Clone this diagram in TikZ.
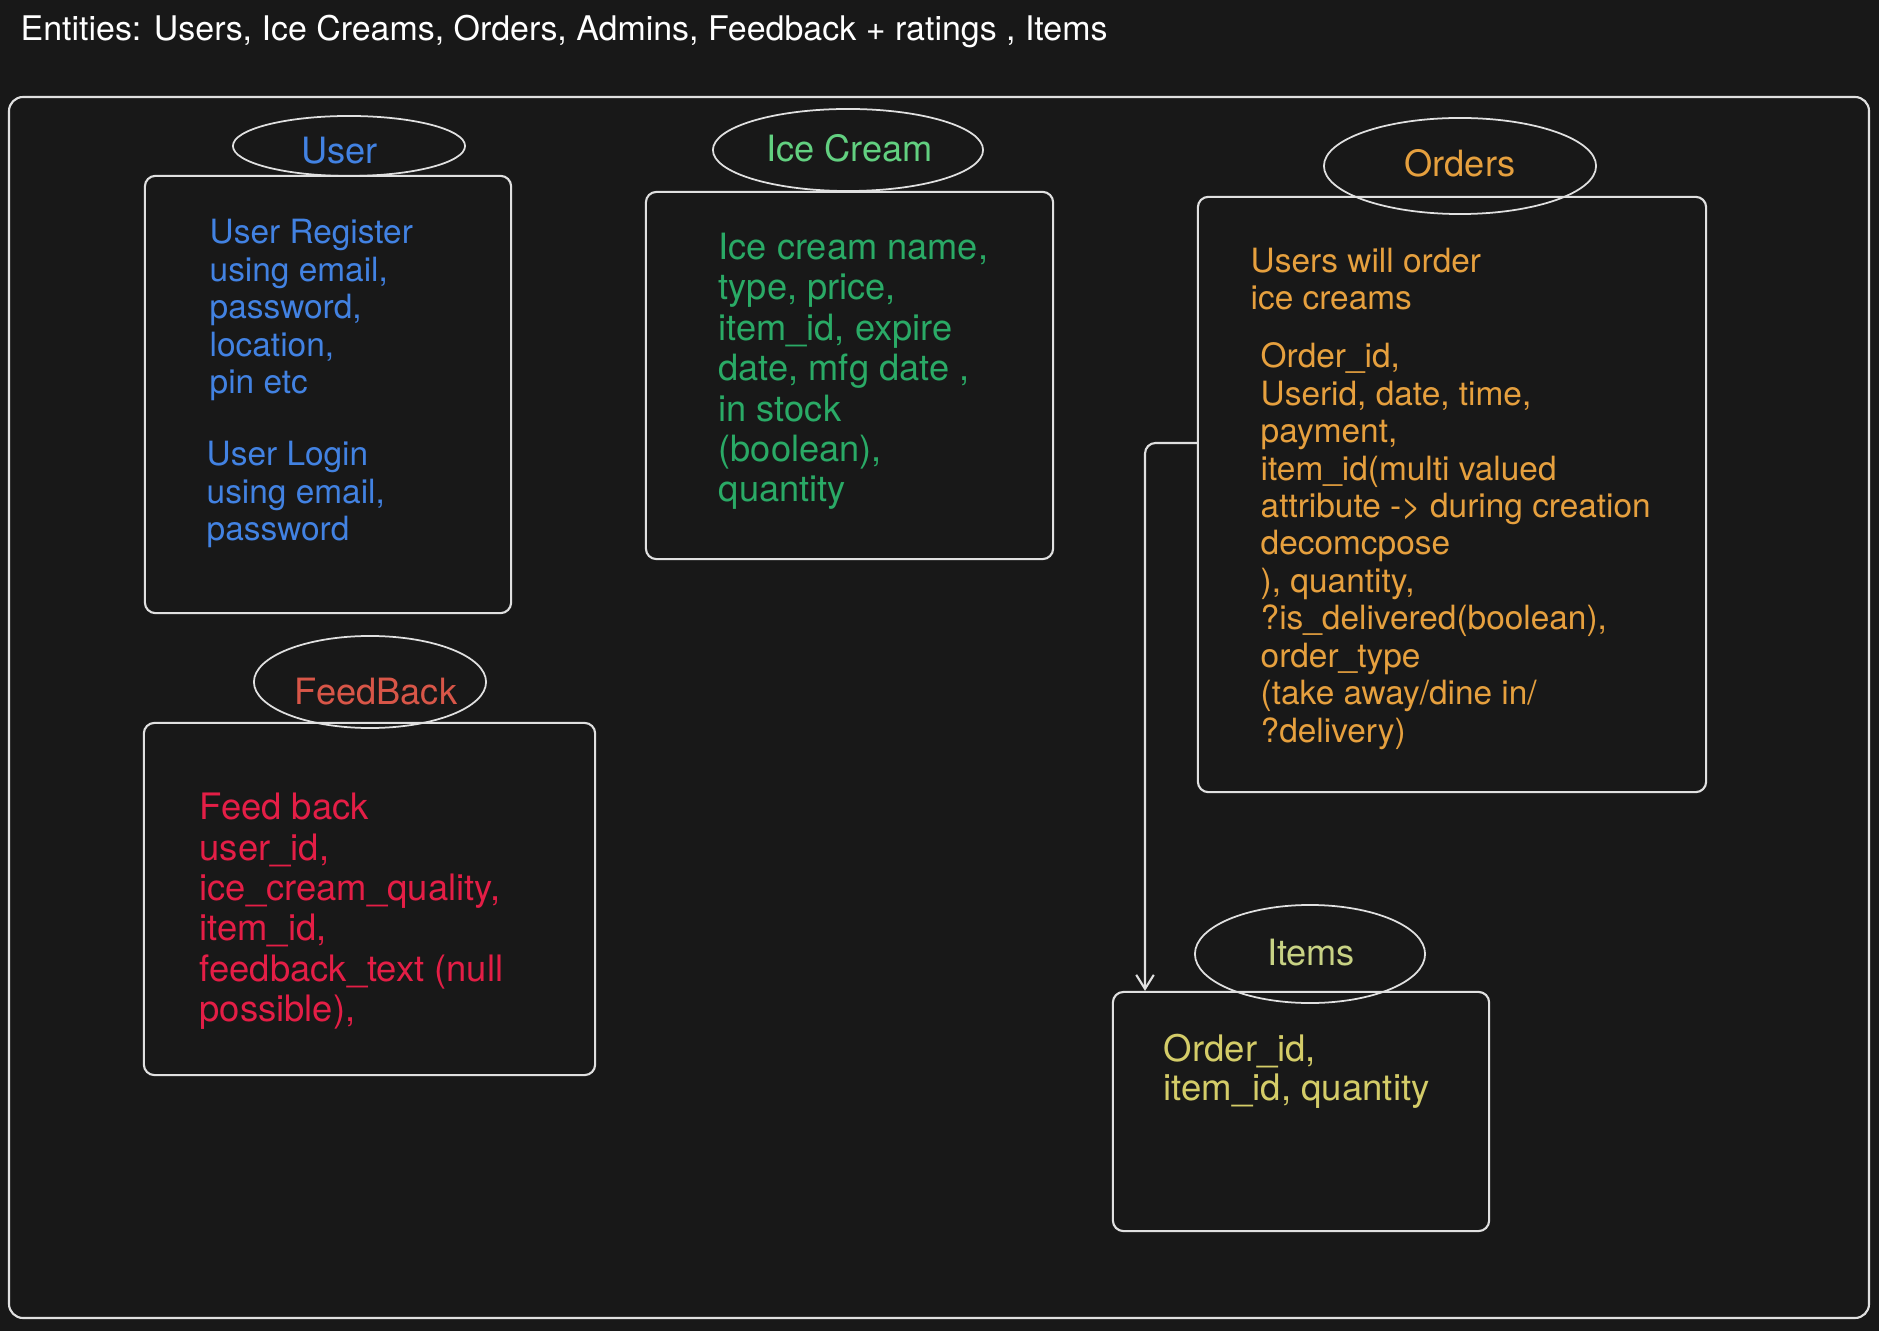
\documentclass[tikz,border=0pt]{standalone}
\usepackage{fontspec}
\setmainfont{TeX Gyre Heros}
\usetikzlibrary{shapes.geometric, arrows.meta}

\definecolor{hinter}{RGB}{24,24,24}
\definecolor{strich}{RGB}{224,224,224}
\definecolor{blau}{RGB}{66,130,226}
\definecolor{gruenhell}{RGB}{98,208,128}
\definecolor{gruen}{RGB}{42,170,102}
\definecolor{orange}{RGB}{230,160,62}
\definecolor{rothell}{RGB}{216,86,72}
\definecolor{rot}{RGB}{228,30,70}
\definecolor{gelbhell}{RGB}{200,210,132}
\definecolor{gelb}{RGB}{212,204,104}

\begin{document}
\begin{tikzpicture}[x=0.01cm, y=-0.01cm,
		>={Straight Barb[length=4pt,width=5pt]},
		ent/.style={draw=strich, ellipse, line width=0.5pt, inner sep=0pt},
		box/.style={draw=strich, rectangle, rounded corners=3pt, line width=0.6pt, inner sep=0pt},
		titel/.style={anchor=base, inner sep=0pt, font=\fontsize{10.3}{12}\selectfont},
		txt/.style={anchor=base west, align=left, inner sep=0pt}]
		\fill[hinter] (0,0) rectangle (1879,1331);
		
		% Kopfzeile
		\node[txt, text=white, font=\fontsize{9.65}{11}\selectfont] (kopf) at (20,41)
		{Entities: Users, Ice Creams, Orders, Admins, Feedback + ratings , Items};
		\draw[strich, line width=0.6pt, rounded corners=4pt] (9,97) rectangle (1869,1318);
		
		% User (Textknoten: base = letzte Zeile)
		\node[box, minimum width=3.66cm, minimum height=4.37cm] (userbox) at (328,394.5) {};
		\node[ent, minimum width=2.32cm, minimum height=0.60cm] (user) at (349,146) {};
		\node[titel, text=blau] (usertitel) at (339.5,164) {User};
		\node[txt, text=blau, font=\fontsize{9.5}{10.7}\selectfont] (register) at (209,394)
		{User Register\\using email,\\password,\\location,\\pin etc};
		\node[txt, text=blau, font=\fontsize{9.5}{10.7}\selectfont] (login) at (206,541)
		{User Login\\using email,\\password};
		
		% Ice Cream
		\node[box, minimum width=4.07cm, minimum height=3.67cm] (icebox) at (849.5,375.5) {};
		\node[ent, minimum width=2.70cm, minimum height=0.82cm] (ice) at (848,150) {};
		\node[titel, text=gruenhell] (icetitel) at (849.5,161.7) {Ice Cream};
		\node[txt, text=gruen, font=\fontsize{10.3}{11.5}\selectfont] (iceattr) at (718,502)
		{Ice cream name,\\type, price,\\item\_id, expire\\date, mfg date ,\\in stock\\(boolean),\\quantity};
		
		% Orders
		\node[box, minimum width=5.08cm, minimum height=5.95cm] (ordersbox) at (1452,494.5) {};
		\node[ent, minimum width=2.72cm, minimum height=0.96cm] (orders) at (1460,166) {};
		\node[titel, text=orange] (orderstitel) at (1460,177) {Orders};
		\node[txt, text=orange, font=\fontsize{9.5}{10.55}\selectfont] (ordersinfo) at (1250,310)
		{Users will order\\ice creams};
		\node[txt, text=orange, font=\fontsize{9.5}{10.64}\selectfont] (ordersattr) at (1260,742)
		{Order\_id,\\Userid, date, time,\\payment,\\item\_id(multi valued\\attribute -> during creation\\decomcpose\\), quantity,\\?is\_delivered(boolean),\\order\_type\\(take away/dine in/\\?delivery)};
		
		% FeedBack
		\node[box, minimum width=4.51cm, minimum height=3.52cm] (feedbox) at (369.5,899) {};
		\node[ent, minimum width=2.32cm, minimum height=0.92cm] (feed) at (370,682) {};
		\node[titel, text=rothell] (feedtitel) at (376,704) {FeedBack};
		\node[txt, text=rot, font=\fontsize{10.35}{11.47}\selectfont] (feedattr) at (199,1021.5)
		{Feed back\\user\_id,\\ice\_cream\_quality,\\item\_id,\\feedback\_text (null\\possible),};
		
		% Items
		\node[box, minimum width=3.76cm, minimum height=2.39cm] (itemsbox) at (1301,1111.5) {};
		\node[ent, minimum width=2.30cm, minimum height=0.98cm] (items) at (1310,954) {};
		\node[titel, text=gelbhell] (itemstitel) at (1311,965) {Items};
		\node[txt, text=gelb, font=\fontsize{10.4}{10.9}\selectfont] (itemsattr) at (1163,1100)
		{Order\_id,\\item\_id, quantity};
		
		% Orders -> Items
		\coordinate (knick) at (1145,443);
		\draw[->, strich, line width=0.6pt, rounded corners=3pt] (knick -| ordersbox.west) -- (knick) -- (knick |- itemsbox.north);
	\end{tikzpicture}
\end{document}
